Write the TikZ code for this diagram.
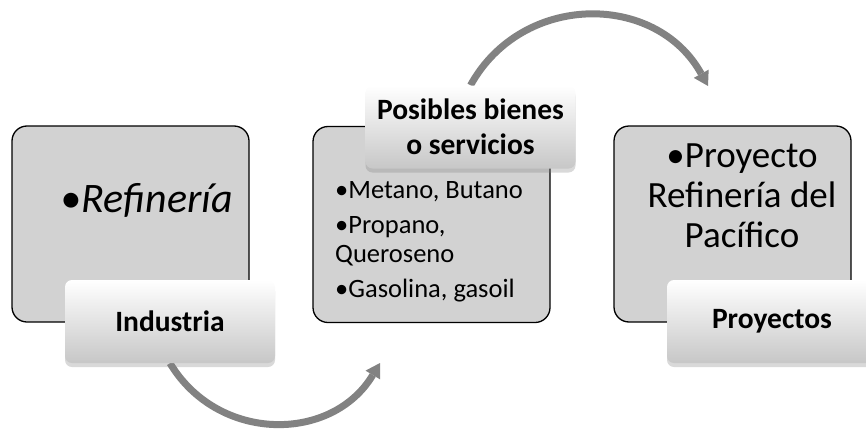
\documentclass[tikz,border=0pt]{standalone}
\usepackage{fontspec}
\setmainfont{Carlito}
\usetikzlibrary{arrows.meta,shadows,backgrounds}
\definecolor{boxgray}{RGB}{210,210,210}
\definecolor{arrowgray}{RGB}{130,130,130}
\tikzset{
  mainbox/.style={draw=black,line width=1.3pt,fill=boxgray,rounded corners=15pt,
    minimum width=237pt,minimum height=196pt},
  tagbox/.style={rounded corners=7pt,top color=white,bottom color=black!22,
    minimum width=210pt,minimum height=83pt,align=center,
    font=\fontsize{29.5}{35}\selectfont\bfseries,
    drop shadow={shadow xshift=0pt,shadow yshift=-4pt,opacity=0.3}},
  bendarrow/.style={draw=arrowgray,line width=7pt,
    -{Triangle[width=17pt,length=14pt,line width=0pt]}},
}
\begin{document}
\begin{tikzpicture}[x=1pt,y=-1pt]
  \useasboundingbox (0,0) rectangle (866,428);
  \node[mainbox] (industria) at (130.5,224) {};
  \node[mainbox] (bienes) at (431.5,224.5) {};
  \node[mainbox] (proyectos) at (732.5,224) {};
  \node[anchor=base west,inner sep=0,font=\fontsize{42}{44}\selectfont\itshape]
    (refineria) at (60,212) {\textbullet Refinería};
  \node[anchor=north west,inner sep=0,align=left,font=\fontsize{26.5}{29}\selectfont]
    (lista) at (335,181) {\textbullet Metano, Butano\\[6pt]\textbullet Propano,\\Queroseno\\[6pt]\textbullet Gasolina, gasoil};
  \node[anchor=north,inner sep=0,align=center,font=\fontsize{37}{40}\selectfont]
    (pacifico) at (742,144) {\textbullet Proyecto\\Refinería del\\Pacífico};
  \node[tagbox] (tagind) at (170,321.5) {Industria};
  \node[tagbox] (tagbien) at (470.5,127) {Posibles bienes\\o servicios};
  \node[tagbox] (tagproy) at (772,321.5) {Proyectos};
  \coordinate (tip1) at (380,363);
  \coordinate (tip2) at (708,86);
  \begin{scope}[on background layer]
    \draw[bendarrow] (tagind.south) .. controls (218,443) and (332,443) .. (tip1);
    \draw[bendarrow] (tagbien.north) .. controls (522,-8) and (656,-8) .. (tip2);
  \end{scope}
\end{tikzpicture}
\end{document}
